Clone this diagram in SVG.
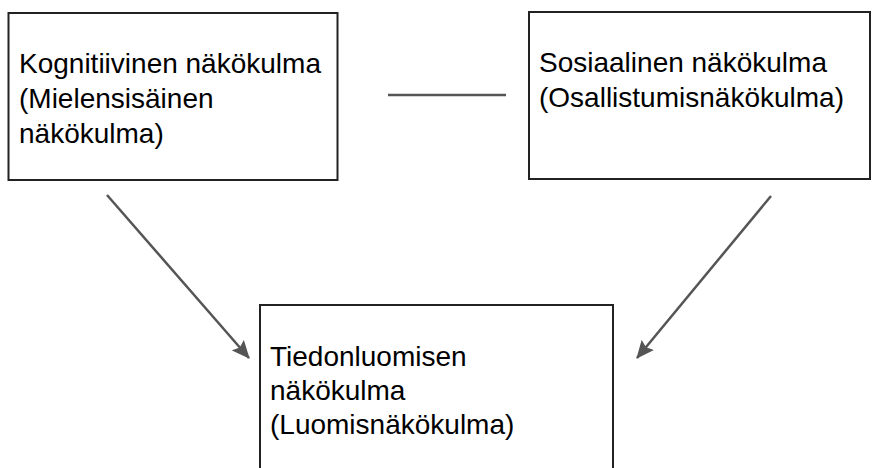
<svg xmlns="http://www.w3.org/2000/svg" width="872" height="468" viewBox="0 0 872 468">
  <style>
    .box { fill: #ffffff; stroke: #222222; stroke-width: 2; }
    .lbl { font-family: "Liberation Sans", Arial, sans-serif; font-size: 28px; fill: #000000; }
    .conn { stroke: #555555; stroke-width: 2.5; fill: none; }
  </style>
  <defs>
    <marker id="arrow" viewBox="0 0 18 16" refX="17" refY="8" markerWidth="18" markerHeight="16" markerUnits="userSpaceOnUse" orient="auto">
      <path d="M0,0 L18,8 L0,16 L3,8 Z" fill="#555555"/>
    </marker>
  </defs>
  <rect width="872" height="468" fill="#ffffff"/>
  <g id="connectors">
    <line class="conn" x1="388" y1="95" x2="506" y2="95"/>
    <line class="conn" x1="107" y1="195" x2="249" y2="358" marker-end="url(#arrow)"/>
    <line class="conn" x1="771" y1="196" x2="637" y2="358" marker-end="url(#arrow)"/>
  </g>
  <g id="kognitiivinen">
    <rect class="box" x="8.5" y="13" width="329" height="167"/>
    <text class="lbl" x="19" y="73">Kognitiivinen näkökulma</text>
    <text class="lbl" x="19" y="108">(Mielensisäinen</text>
    <text class="lbl" x="19" y="143">näkökulma)</text>
  </g>
  <g id="sosiaalinen">
    <rect class="box" x="529" y="12" width="341" height="167"/>
    <text class="lbl" x="539" y="72">Sosiaalinen näkökulma</text>
    <text class="lbl" x="539" y="107">(Osallistumisnäkökulma)</text>
  </g>
  <g id="tiedonluomisen">
    <rect class="box" x="260" y="305" width="353" height="180"/>
    <text class="lbl" x="270" y="366">Tiedonluomisen</text>
    <text class="lbl" x="270" y="400">näkökulma</text>
    <text class="lbl" x="270" y="434">(Luomisnäkökulma)</text>
  </g>
</svg>
